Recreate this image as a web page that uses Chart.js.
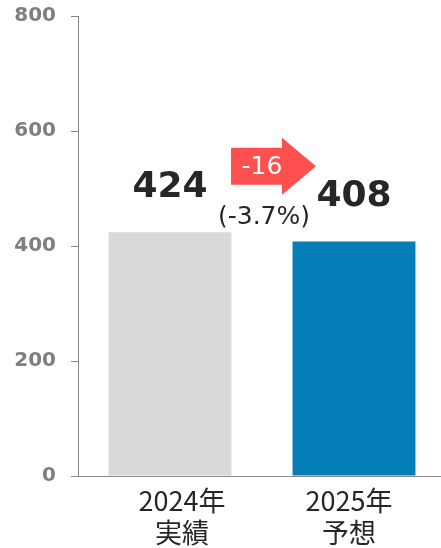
<!DOCTYPE html>
<html>
<head>
<meta charset="utf-8">
<script src="https://cdn.jsdelivr.net/npm/chart.js@4/dist/chart.umd.min.js"></script>
<style>
    html, body { margin: 0; padding: 0; background: #ffffff; overflow: hidden; }
    canvas { display: block; }
</style>
</head>
<body>
<canvas id="grafico" width="446" height="548"></canvas>
<script>
const anios = ['2024年', '2025年'];
const tipos = ['実績', '予想'];
const valores = [424, 408];
const ticksY = [0, 200, 400, 600, 800];
const variacion = [-16];
const variacionPct = [-3.7];
const coloresBarras = ['#D9D9D9', '#057DB6'];

const fuente = '"DejaVu Sans", "Noto Sans CJK JP", sans-serif';
const fuenteJp = '"Noto Sans CJK JP", "DejaVu Sans", sans-serif';

// etiquetas, flecha y categorias
const etiquetas = {
    id: 'etiquetas',
    afterDatasetsDraw(chart) {
        const ctx = chart.ctx;
        const barras = chart.getDatasetMeta(0).data;
        const abajo = chart.chartArea.bottom;
        ctx.save();

        // valores encima de las barras
        ctx.fillStyle = '#262626';
        ctx.font = 'bold 36px ' + fuente;
        ctx.textAlign = 'center';
        ctx.textBaseline = 'alphabetic';
        barras.forEach((b, i) => {
            ctx.fillText(String(valores[i]), b.x, b.y - 35);
        });

        // flecha roja con la diferencia
        const b0 = barras[0], b1 = barras[1];
        const medio = ((b0.x + b0.width / 2) + (b1.x - b1.width / 2)) / 2;
        const cy = b0.y - 66;
        ctx.fillStyle = '#FF5050';
        ctx.beginPath();
        ctx.moveTo(medio - 31, cy - 18.5);
        ctx.lineTo(medio + 20, cy - 18.5);
        ctx.lineTo(medio + 20, cy - 28.5);
        ctx.lineTo(medio + 54, cy);
        ctx.lineTo(medio + 20, cy + 28.5);
        ctx.lineTo(medio + 20, cy + 18.5);
        ctx.lineTo(medio - 31, cy + 18.5);
        ctx.closePath();
        ctx.fill();

        ctx.fillStyle = '#ffffff';
        ctx.font = '25px ' + fuente;
        ctx.textBaseline = 'middle';
        ctx.fillText(String(variacion[0]), medio, cy + 1);

        ctx.fillStyle = '#262626';
        ctx.font = '25px ' + fuente;
        ctx.textBaseline = 'alphabetic';
        ctx.fillText('(' + variacionPct[0].toFixed(1) + '%)', medio + 2, b0.y - 8);

        // categorias del eje X
        const corrimiento = [12, -5];
        ctx.font = '27px ' + fuenteJp;
        barras.forEach((b, i) => {
            const x = b.x + corrimiento[i];
            ctx.fillText(anios[i], x, abajo + 35);
            ctx.fillText(tipos[i], x, abajo + 67);
        });
        ctx.restore();
    }
};

new Chart(document.getElementById('grafico').getContext('2d'), {
    type: 'bar',
    plugins: [etiquetas],
    data: {
        labels: anios,
        datasets: [{
            data: valores,
            backgroundColor: coloresBarras,
            barPercentage: 0.668,
            categoryPercentage: 1.0
        }]
    },
    options: {
        responsive: false,
        animation: false,
        layout: { padding: { top: 16, left: 0, right: 0, bottom: 0 } },
        plugins: {
            legend: { display: false },
            tooltip: { enabled: false }
        },
        scales: {
            x: {
                ticks: { display: false },
                grid: { display: false },
                border: { display: true, color: '#898989', width: 1 },
                afterFit: s => { s.height = 72; s.paddingLeft = 0; s.paddingRight = 0; }
            },
            y: {
                min: 0,
                max: 800,
                afterBuildTicks: s => { s.ticks = ticksY.map(v => ({ value: v })); },
                ticks: {
                    padding: 15,
                    color: '#7F7F7F',
                    font: { family: fuente, weight: 'bold', size: 20 }
                },
                grid: {
                    drawOnChartArea: false,
                    drawTicks: true,
                    tickLength: 7,
                    color: '#898989'
                },
                border: { display: true, color: '#898989', width: 1 },
                afterFit: s => { s.width = 78; s.paddingTop = 0; s.paddingBottom = 0; }
            }
        }
    }
});
</script>
</body>
</html>
